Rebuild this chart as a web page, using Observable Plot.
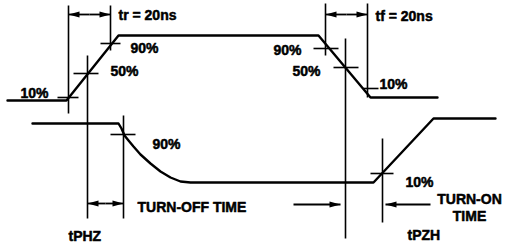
<!DOCTYPE html>
<html><head><meta charset="utf-8">
<script src="https://cdn.jsdelivr.net/npm/d3@7"></script>
<script src="https://cdn.jsdelivr.net/npm/@observablehq/plot@0.6"></script>
<style>html,body{margin:0;padding:0;background:#fff;overflow:hidden}</style>
</head><body><div id="chart"></div>
<script>
// Top waveform (input): time vs level (diagram units)
const topWaveT = [7, 66, 118, 318, 370, 437];
const topWaveV = [100, 100, 35, 35, 97, 97];
// Bottom waveform (output)
const bottomWaveT = [32, 118, 121, 124, 128, 133, 140, 150, 160, 170, 180, 190, 373, 433, 495];
const bottomWaveV = [123, 123, 128, 135, 140, 146, 154, 163, 171, 177, 181, 182, 182, 118, 118];
// Vertical reference lines
const guideT = [68, 87, 110, 123, 325, 345, 367, 382];
const guideTop = [5, 55, 5, 115, 3, 38, 3, 138];
const guideBottom = [113, 218, 50, 218, 55, 238, 97, 222];
// Level crossing ticks
const tickV = [97, 73, 43, 48, 67, 88, 134, 173];
const tickStart = [57, 73, 100, 313, 333, 363, 110, 370];
const tickEnd = [78, 98, 120, 338, 358, 378, 135, 393];
// Labels
const labelText = ["10%", "50%", "90%", "90%", "50%", "10%", "90%", "10%", "tr = 20ns", "tf = 20ns", "tPHZ", "tPZH", "TURN-OFF TIME", "TURN-ON\nTIME"];
const labelT = [20, 110, 130, 273, 292, 379, 152, 405, 118, 375, 68, 407, 137, 469];
const labelV = [97, 75, 52, 54, 75, 88, 148, 186, 19, 20, 240, 239, 211, 220];
const labelAnchor = ["start", "start", "start", "start", "start", "start", "start", "start", "start", "start", "start", "start", "start", "middle"];
// Arrows (time interval markers)
const arrowFrom = [89, 89, 346, 346, 105, 105, 293, 430];
const arrowTo = [68, 110, 325, 367, 87, 123, 340, 385];
const arrowV = [14, 14, 14, 14, 203, 203, 204, 204];

const topWave = topWaveT.map((t, i) => ({t, v: topWaveV[i]}));
const bottomWave = bottomWaveT.map((t, i) => ({t, v: bottomWaveV[i]}));
const guides = guideT.map((t, i) => ({t, v1: guideTop[i], v2: guideBottom[i]}));
const ticks = tickV.map((v, i) => ({v, t1: tickStart[i], t2: tickEnd[i]}));
const labels = labelText.map((text, i) => ({text, t: labelT[i], v: labelV[i], a: labelAnchor[i]}));
const arrows = arrowFrom.map((t1, i) => ({t1, t2: arrowTo[i], v: arrowV[i]}));

// narrow filled arrowhead, tip at origin, pointing right
const arrowHead = {
  draw(context) {
    context.moveTo(0, 0);
    context.lineTo(-11, -3);
    context.lineTo(-11, 3);
    context.closePath();
  }
};

const textStyle = {fontSize: 14, fontWeight: "bold", fill: "#000", stroke: "#000", strokeWidth: 0.5, lineAnchor: "bottom"};

const chart = Plot.plot({
  width: 510,
  height: 242,
  margin: 0,
  x: {domain: [0, 510], axis: null},
  y: {domain: [242, 0], axis: null},
  style: {background: "#fff", color: "#000", fontFamily: "'Liberation Sans', Arial, sans-serif"},
  marks: [
    Plot.link(guides, {x1: "t", x2: "t", y1: "v1", y2: "v2", stroke: "#000", strokeWidth: 1.6}),
    Plot.link(ticks, {x1: "t1", x2: "t2", y1: "v", y2: "v", stroke: "#000", strokeWidth: 1.6}),
    Plot.line(topWave, {x: "t", y: "v", stroke: "#000", strokeWidth: 2.4, strokeLinejoin: "miter"}),
    Plot.line(bottomWave, {x: "t", y: "v", stroke: "#000", strokeWidth: 2.4, curve: "linear"}),
    Plot.link(arrows, {x1: "t1", x2: "t2", y1: "v", y2: "v", stroke: "#000", strokeWidth: 1.8}),
    Plot.dot(arrows, {x: "t2", y: "v", symbol: arrowHead, rotate: d => d.t2 > d.t1 ? 0 : 180, fill: "#000", stroke: "none"}),
    Plot.text(labels.filter(d => d.a === "start"), {x: "t", y: "v", text: "text", textAnchor: "start", ...textStyle}),
    Plot.text(labels.filter(d => d.a === "middle"), {x: "t", y: "v", text: "text", textAnchor: "middle", lineHeight: 1.21, ...textStyle})
  ]
});
document.getElementById("chart").appendChild(chart);
</script>
</body></html>
